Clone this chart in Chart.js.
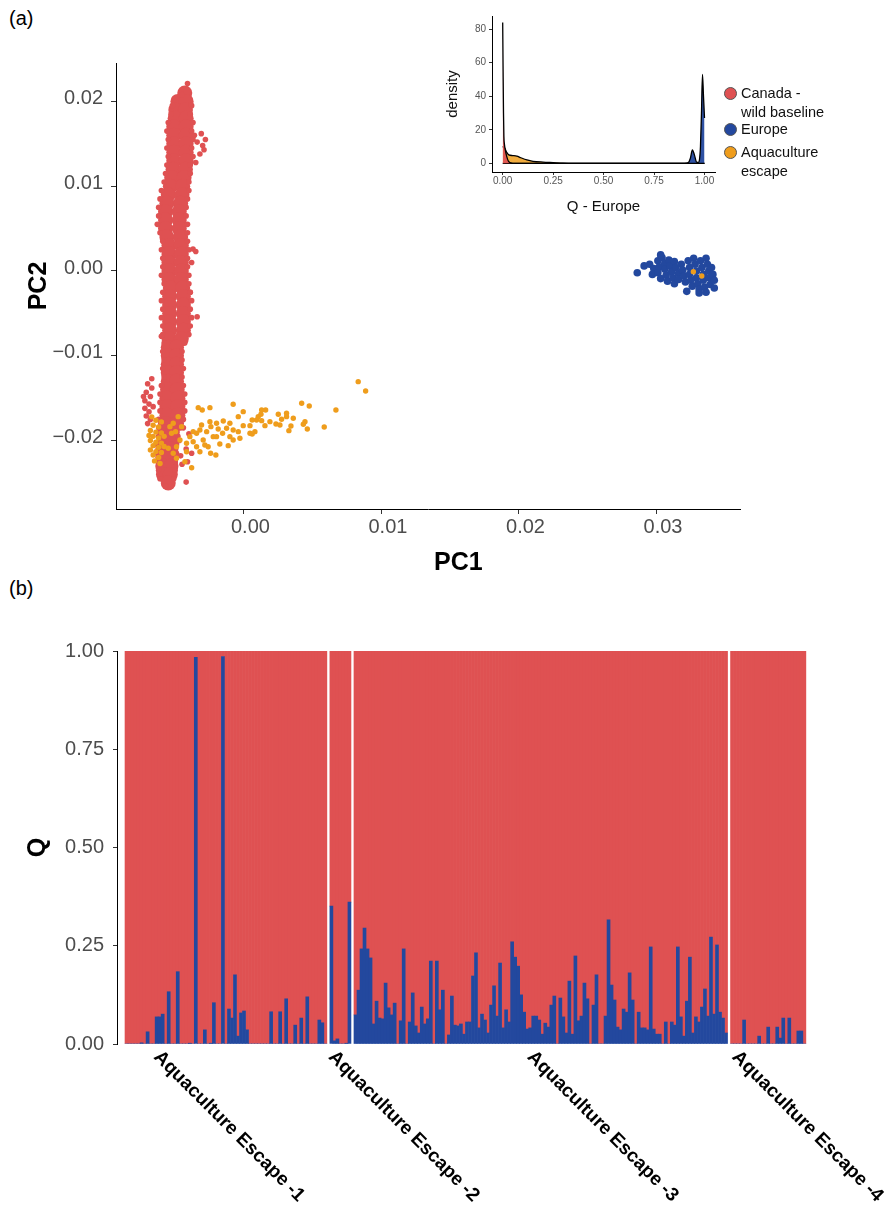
<!DOCTYPE html>
<html lang="en">
<head>
    <meta charset="UTF-8">
    <title>PCA and admixture of aquaculture escapes</title>
    <script src="https://cdn.jsdelivr.net/npm/chart.js"></script>
    <style>
        * { margin: 0; padding: 0; box-sizing: border-box; }
        body { background: #fff; font-family: "Liberation Sans", Arial, sans-serif; }
        #page { position: relative; width: 889px; height: 1207px; }
        canvas { position: absolute; }
        .panel-tag { position: absolute; font-size: 20px; line-height: 20px; color: #000; }
        .axis-title { position: absolute; font-size: 25px; line-height: 30px; font-weight: bold; color: #000; }
        .legend { position: absolute; left: 724px; top: 0; font-size: 14.5px; color: #111; }
        .legend .item { position: absolute; left: 0; white-space: nowrap; }
        .legend .dot {
            position: absolute; left: 0; width: 13px; height: 13px; border-radius: 50%;
            border: 1px solid #555;
        }
        .legend .txt { position: absolute; left: 17px; line-height: 18.5px; }
    </style>
</head>
<body>
<div id="page">
    <div class="panel-tag" style="left:9px; top:8px;">(a)</div>
    <div class="panel-tag" style="left:9px; top:578px;">(b)</div>
    <canvas id="pca" width="889" height="580" style="left:0; top:0;"></canvas>
    <div class="axis-title" style="left:434px; top:546px;">PC1</div>
    <canvas id="density" width="300" height="225" style="left:430px; top:0;"></canvas>
    <div class="legend" id="legend"></div>
    <canvas id="admix" width="889" height="627" style="left:0; top:580px;"></canvas>
</div>
<script>
    const RED = "#DF5152";
    const BLUE = "#23489E";
    const ORANGE = "#EF9D1C";
    const FONT = '"Liberation Sans", Arial, sans-serif';
    Chart.defaults.font.family = FONT;

    // ---- (a) PCA, values [PC1, PC2] ----
    const pcaXTicks = [0, 0.01, 0.02, 0.03];
    const pcaYTicks = [-0.02, -0.01, 0, 0.01, 0.02];

    // dense body of the Canadian cloud
    const pcaCanadaCore = [
        [-0.0043, 0.0210], [-0.0048, 0.0200], [-0.0042, 0.0200], [-0.00495, 0.0190], [-0.00425, 0.0190],
        [-0.0050, 0.0180], [-0.0042, 0.0180], [-0.0051, 0.0170], [-0.0042, 0.0170], [-0.0051, 0.0160],
        [-0.0042, 0.0160], [-0.0051, 0.0150], [-0.0042, 0.0150], [-0.0051, 0.0140], [-0.0042, 0.0140],
        [-0.0051, 0.0130], [-0.0042, 0.0130], [-0.00515, 0.0120], [-0.00425, 0.0120], [-0.00525, 0.0110],
        [-0.00435, 0.0110], [-0.00535, 0.0100], [-0.00445, 0.0100], [-0.0055, 0.0090], [-0.0045, 0.0090],
        [-0.0056, 0.0080], [-0.0046, 0.0080], [-0.0057, 0.0070], [-0.0047, 0.0070], [-0.0057, 0.0060],
        [-0.0047, 0.0060], [-0.0057, 0.0050], [-0.0047, 0.0050], [-0.0056, 0.0040], [-0.0046, 0.0040],
        [-0.00545, 0.0030], [-0.00455, 0.0030], [-0.00545, 0.0020], [-0.00455, 0.0020], [-0.00545, 0.0010],
        [-0.00455, 0.0010], [-0.00545, 0.0000], [-0.00455, 0.0000], [-0.00545, -0.0010], [-0.00455, -0.0010],
        [-0.00535, -0.0020], [-0.00445, -0.0020], [-0.0054, -0.0030], [-0.0044, -0.0030], [-0.0054, -0.0040],
        [-0.0044, -0.0040], [-0.0054, -0.0050], [-0.0044, -0.0050], [-0.0054, -0.0060], [-0.0044, -0.0060],
        [-0.0054, -0.0070], [-0.0044, -0.0070], [-0.00545, -0.0080], [-0.00455, -0.0080], [-0.0055, -0.0090],
        [-0.0049, -0.0090], [-0.0055, -0.0100], [-0.0049, -0.0100], [-0.0055, -0.0110], [-0.0049, -0.0110],
        [-0.0055, -0.0120], [-0.0049, -0.0120], [-0.0055, -0.0130], [-0.0049, -0.0130], [-0.00555, -0.0140],
        [-0.00485, -0.0140], [-0.0056, -0.0150], [-0.0048, -0.0150], [-0.0056, -0.0160], [-0.0048, -0.0160],
        [-0.0056, -0.0170], [-0.0048, -0.0170], [-0.0057, -0.0180], [-0.0049, -0.0180], [-0.0058, -0.0190],
        [-0.0052, -0.0190], [-0.0058, -0.0200], [-0.0052, -0.0200], [-0.0059, -0.0210], [-0.0053, -0.0210],
        [-0.0059, -0.0220], [-0.0053, -0.0220], [-0.0059, -0.0230], [-0.0053, -0.0230], [-0.00585, -0.0240],
        [-0.00535, -0.0240], [-0.0055, -0.0250]
    ];

    // ragged edges and stray Canadian fish
    const pcaCanada = [
        [-0.0041, 0.0221], [-0.0045, 0.0208], [-0.0052, 0.0195], [-0.0038, 0.0195], [-0.0053, 0.0185],
        [-0.0039, 0.0185], [-0.0055, 0.0175], [-0.0037, 0.0175], [-0.0056, 0.0165], [-0.0038, 0.0165],
        [-0.0055, 0.0155], [-0.0037, 0.0155], [-0.0056, 0.0145], [-0.0038, 0.0145], [-0.0055, 0.0135],
        [-0.0037, 0.0135], [-0.0056, 0.0125], [-0.0039, 0.0125], [-0.0057, 0.0115], [-0.0039, 0.0115],
        [-0.0058, 0.0105], [-0.0040, 0.0105], [-0.0060, 0.0095], [-0.0040, 0.0095], [-0.0061, 0.0085],
        [-0.0041, 0.0085], [-0.0062, 0.0075], [-0.0042, 0.0075], [-0.0062, 0.0065], [-0.0042, 0.0065],
        [-0.0063, 0.0055], [-0.0041, 0.0055], [-0.0061, 0.0045], [-0.0041, 0.0045], [-0.0059, 0.0035],
        [-0.0041, 0.0035], [-0.0060, 0.0025], [-0.0040, 0.0025], [-0.0059, 0.0015], [-0.0041, 0.0015],
        [-0.0059, 0.0005], [-0.0041, 0.0005], [-0.0060, -0.0005], [-0.0040, -0.0005], [-0.0058, -0.0015],
        [-0.0040, -0.0015], [-0.0059, -0.0025], [-0.0039, -0.0025], [-0.0060, -0.0035], [-0.0038, -0.0035],
        [-0.0059, -0.0045], [-0.0039, -0.0045], [-0.0060, -0.0055], [-0.0038, -0.0055], [-0.0059, -0.0065],
        [-0.0039, -0.0065], [-0.0059, -0.0075], [-0.0040, -0.0075], [-0.0058, -0.0085], [-0.0043, -0.0085],
        [-0.0059, -0.0095], [-0.0045, -0.0095], [-0.0058, -0.0105], [-0.0045, -0.0105], [-0.0059, -0.0115],
        [-0.0044, -0.0115], [-0.0058, -0.0125], [-0.0045, -0.0125], [-0.0060, -0.0135], [-0.0044, -0.0135],
        [-0.0061, -0.0145], [-0.0043, -0.0145], [-0.0061, -0.0155], [-0.0043, -0.0155], [-0.0061, -0.0165],
        [-0.0043, -0.0165], [-0.0062, -0.0175], [-0.0044, -0.0175], [-0.0062, -0.0185], [-0.0046, -0.0185],
        [-0.0062, -0.0195], [-0.0048, -0.0195], [-0.0063, -0.0205], [-0.0049, -0.0205], [-0.0063, -0.0215],
        [-0.0049, -0.0215], [-0.0062, -0.0225], [-0.0050, -0.0225], [-0.0062, -0.0235], [-0.0050, -0.0235],
        [-0.0061, -0.0245], [-0.0051, -0.0245], [-0.0057, -0.0254],
        [-0.0031, 0.0162], [-0.0028, 0.0155], [-0.0030, 0.0148], [-0.0029, 0.0143], [-0.0032, 0.0138],
        [-0.0034, 0.0152], [-0.0036, 0.0160], [-0.0035, 0.0128], [-0.0037, 0.0026], [-0.0035, 0.0023],
        [-0.0038, 0.0010], [-0.0039, -0.0025], [-0.0034, -0.0054], [-0.0060, -0.0077],
        [-0.0067, -0.0127], [-0.0070, -0.0133], [-0.0067, -0.0138], [-0.0071, -0.0143], [-0.0068, -0.0148],
        [-0.0072, -0.0153], [-0.0069, -0.0157], [-0.0072, -0.0162], [-0.0069, -0.0166], [-0.0071, -0.0171],
        [-0.0068, -0.0175], [-0.0073, -0.0148], [-0.0066, -0.0160], [-0.0070, -0.0180],
        [-0.0042, -0.0249], [-0.0041, -0.0225], [-0.0045, -0.0228], [-0.0044, -0.0185], [-0.0040, -0.0192],
        [-0.0047, -0.0200], [-0.0042, -0.0210], [-0.0038, -0.0215], [-0.0046, -0.0218], [-0.0050, -0.0225]
    ];

    const pcaEurope = [
        [0.0295, 0.0008], [0.0298, 0.0003], [0.0297, -0.0004], [0.0301, 0.0012], [0.0302, 0.0005],
        [0.0301, -0.0002], [0.0303, -0.0009], [0.0304, 0.0016], [0.0306, 0.0009], [0.0306, 0.0002],
        [0.0307, -0.0005], [0.0308, -0.0012], [0.0309, 0.0013], [0.0310, 0.0006], [0.0311, -0.0001],
        [0.0312, -0.0008], [0.0313, -0.0015], [0.0313, 0.0011], [0.0314, 0.0004], [0.0316, -0.0003],
        [0.0316, -0.0010], [0.0318, 0.0008], [0.0319, 0.0001], [0.0320, -0.0006], [0.0321, -0.0013],
        [0.0323, 0.0012], [0.0324, 0.0004], [0.0324, -0.0004], [0.0325, -0.0011], [0.0326, -0.0018],
        [0.0327, 0.0015], [0.0328, 0.0008], [0.0329, 0.0000], [0.0329, -0.0008], [0.0330, -0.0015],
        [0.0331, -0.0022], [0.0332, 0.0012], [0.0333, 0.0004], [0.0334, -0.0004], [0.0334, -0.0011],
        [0.0335, -0.0019], [0.0336, 0.0015], [0.0337, 0.0008], [0.0338, 0.0000], [0.0338, -0.0008],
        [0.0339, -0.0016], [0.0340, 0.0004], [0.0341, -0.0004], [0.0342, -0.0011], [0.0342, -0.0020],
        [0.0336, -0.0025], [0.0331, -0.0026], [0.0286, -0.0002], [0.0291, 0.0006], [0.0303, 0.0019],
        [0.0322, -0.0024]
    ];

    const pcaEscape = [
        [-0.0067, -0.0172], [-0.0064, -0.0176], [-0.0060, -0.0178], [-0.0066, -0.0182], [-0.0062, -0.0184],
        [-0.0068, -0.0188], [-0.0064, -0.0190], [-0.0060, -0.0191], [-0.0066, -0.0195], [-0.0062, -0.0197],
        [-0.0068, -0.0200], [-0.0064, -0.0202], [-0.0060, -0.0203], [-0.0066, -0.0206], [-0.0062, -0.0208],
        [-0.0068, -0.0211], [-0.0064, -0.0213], [-0.0060, -0.0214], [-0.0066, -0.0217], [-0.0062, -0.0220],
        [-0.0065, -0.0224], [-0.0061, -0.0227], [-0.0058, -0.0195], [-0.0058, -0.0207], [-0.0069, -0.0194],
        [-0.00332, -0.01612], [-0.00303, -0.01639], [-0.00247, -0.01612], [-0.00078, -0.01572], [-0.00005, -0.01659],
        [-0.00041, -0.01718], [0.00129, -0.01639], [0.00158, -0.01639], [0.00104, -0.01718], [0.00092, -0.01757],
        [0.00129, -0.01765], [0.00250, -0.01690], [0.00310, -0.01678], [0.00274, -0.01749], [0.00359, -0.01737],
        [0.00420, -0.01560], [0.00475, -0.01592], [0.00444, -0.01777], [0.00432, -0.01808], [0.00461, -0.01863],
        [0.00327, -0.01883], [0.00342, -0.01828], [0.00233, -0.01804], [0.00584, -0.01840], [0.00669, -0.01639],
        [0.00831, -0.01305], [0.00885, -0.01415], [0.00044, -0.01824], [-0.00005, -0.01824], [-0.00041, -0.01895],
        [-0.00029, -0.01973], [-0.00102, -0.01796], [-0.00150, -0.01769], [-0.00199, -0.01796], [-0.00247, -0.01777],
        [-0.00240, -0.01836], [-0.00187, -0.01863], [-0.00155, -0.01914], [-0.00223, -0.01954], [-0.00102, -0.01954],
        [-0.00078, -0.01993], [-0.00114, -0.02060], [-0.00175, -0.02040], [-0.00296, -0.01993], [-0.00320, -0.01875],
        [-0.00369, -0.01895], [-0.00393, -0.01954], [-0.00417, -0.02032], [-0.00344, -0.02072], [-0.00320, -0.02131],
        [-0.00242, -0.02150], [-0.00204, -0.02170], [-0.00380, -0.02320], [-0.00429, -0.02249], [-0.00490, -0.02209],
        [-0.00514, -0.02150], [-0.00550, -0.02091], [-0.00490, -0.02072], [-0.00465, -0.01993], [-0.00526, -0.01914],
        [-0.00453, -0.01836], [-0.00478, -0.01718], [0.00044, -0.01914], [0.00080, -0.01895], [0.00153, -0.01824],
        [0.00189, -0.01777], [0.00060, -0.01922], [-0.00078, -0.01875], [-0.00126, -0.01855], [-0.00260, -0.02072],
        [-0.00284, -0.02052], [-0.00369, -0.02013], [-0.00417, -0.02131], [-0.00199, -0.01954], [-0.00344, -0.01914],
        [-0.00271, -0.01895], [-0.00308, -0.01816], [0.00262, -0.01816], [0.00310, -0.01718], [0.00124, -0.01690],
        [0.00060, -0.01757], [-0.00497, -0.01895], [-0.00538, -0.01836], [-0.00514, -0.01796],
        [0.03268, -0.00008], [0.03329, -0.00059]
    ];

    // ---- inset: density of Q (Europe) ----
    const densCanada = [[0, 84], [0.002, 55], [0.004, 30], [0.006, 16], [0.009, 11], [0.013, 8], [0.018, 5],
        [0.024, 2.5], [0.03, 1], [0.04, 0.2], [0.05, 0], [1, 0]];
    const densEurope = [[0, 0], [0.9, 0], [0.92, 0.5], [0.93, 3], [0.94, 8], [0.95, 5], [0.96, 0.8], [0.97, 0.5],
        [0.975, 2], [0.98, 10], [0.985, 30], [0.99, 53], [0.995, 40], [1, 27]];
    const densEscape = [[0, 10], [0.01, 9], [0.02, 6.5], [0.03, 5], [0.05, 4.6], [0.07, 4.3], [0.09, 3.3],
        [0.12, 2], [0.15, 1.2], [0.2, 0.7], [0.25, 0.4], [0.3, 0.1], [0.35, 0], [1, 0]];
    const densXTicks = [0, 0.25, 0.5, 0.75, 1];
    const densYTicks = [0, 20, 40, 60, 80];

    const legendItems = [
        { lines: ["Canada -", "wild baseline"], color: RED, top: 84 },
        { lines: ["Europe"], color: BLUE, top: 120 },
        { lines: ["Aquaculture", "escape"], color: ORANGE, top: 143 }
    ];

    // ---- (b) Q (Europe) per escaped fish, one array per escape event ----
    const groupNames = ["Aquaculture Escape -1", "Aquaculture Escape -2", "Aquaculture Escape -3", "Aquaculture Escape -4"];
    const escape1Q = [0, 0, 0, 0, 0, 0.003, 0, 0.031, 0, 0, 0.069, 0.069, 0.076, 0, 0.133, 0, 0, 0.184, 0, 0,
        0, 0.002, 0, 0.984, 0, 0, 0.036, 0, 0.002, 0.105, 0, 0, 0.986, 0, 0.089, 0.066, 0.176, 0.02, 0.079, 0.084,
        0.036, 0, 0, 0, 0, 0, 0, 0, 0.082, 0, 0, 0.082, 0, 0.115, 0, 0, 0.048, 0, 0.066, 0,
        0.12, 0, 0, 0, 0.061, 0.054, 0];
    const escape2Q = [0.351, 0.008, 0.013, 0, 0, 0.002, 0.361];
    const escape3Q = [0.074, 0.137, 0.242, 0.295, 0.242, 0.219, 0.051, 0.109, 0.066, 0.064,
        0.155, 0.092, 0.074, 0.104, 0, 0.059, 0.242, 0, 0.056, 0.130,
        0.046, 0.028, 0.094, 0.051, 0.064, 0.211, 0, 0.211, 0.087, 0.137,
        0, 0.023, 0.122, 0.048, 0.046, 0.051, 0.025, 0.056, 0.056, 0.173,
        0.232, 0.041, 0.076, 0.061, 0.028, 0.099, 0.148, 0.071, 0.206, 0.041,
        0.087, 0.056, 0.260, 0.221, 0.198, 0.125, 0.081, 0.038, 0.041, 0.071,
        0.071, 0.061, 0.025, 0.053, 0.043, 0.099, 0.122, 0, 0.117, 0.069,
        0.028, 0.160, 0.025, 0.224, 0.059, 0.071, 0.155, 0.115, 0, 0.099,
        0.176, 0, 0, 0.071, 0.316, 0.150, 0.112, 0.043, 0.036, 0.089,
        0.081, 0.181, 0.112, 0, 0.081, 0.041, 0.041, 0.036, 0.247, 0.038,
        0.025, 0.025, 0, 0.056, 0, 0.056, 0.048, 0.247, 0.069, 0.020,
        0.109, 0.221, 0.028, 0.069, 0.056, 0.094, 0.140, 0.071, 0.272, 0.076,
        0.252, 0.081, 0.066, 0.028];
    const escape4Q = [0, 0, 0, 0, 0.061, 0, 0, 0, 0, 0.020, 0, 0, 0.043, 0, 0, 0.043, 0.015, 0.066, 0, 0.066,
        0, 0, 0.033, 0.033, 0];
    const labelAt = [10, 0, 58, 1];   // fish under which each group name starts
    const qTicks = [0, 0.25, 0.5, 0.75, 1];

    const toXY = arr => arr.map(([x, y]) => ({ x, y }));
    const tickFont = { size: 20 };
    const titleFont = { size: 25, weight: "bold" };

    // Gráfico (a): PCA
    new Chart(document.getElementById("pca"), {
        type: "scatter",
        data: {
            datasets: [
                { label: "Aquaculture escape", data: toXY(pcaEscape), backgroundColor: ORANGE, pointRadius: 2.7, borderWidth: 0 },
                { label: "Europe", data: toXY(pcaEurope), backgroundColor: BLUE, pointRadius: 3.8, borderWidth: 0 },
                { label: "Canada", data: toXY(pcaCanada), backgroundColor: RED, pointRadius: 2.8, borderWidth: 0 },
                { label: "Canada", data: toXY(pcaCanadaCore), backgroundColor: RED, pointRadius: 7.5, borderWidth: 0 }
            ]
        },
        options: {
            responsive: false,
            animation: false,
            events: [],
            layout: { padding: { top: 63, right: 149, left: 0, bottom: 0 } },
            plugins: { legend: { display: false }, tooltip: { enabled: false } },
            scales: {
                x: {
                    type: "linear", min: -0.0093, max: 0.03607,
                    afterFit: s => { s.height = 71; },
                    afterBuildTicks: s => { s.ticks = pcaXTicks.map(v => ({ value: v })); },
                    border: { display: true, color: "#000", width: 1 },
                    grid: { drawOnChartArea: false, drawTicks: true, tickLength: 5, color: "#333" },
                    ticks: { color: "#4D4D4D", font: tickFont, padding: 1, labelOffset: 6.5, maxRotation: 0, callback: v => v.toFixed(2) }
                },
                y: {
                    type: "linear", min: -0.02807, max: 0.02453,
                    afterFit: s => { s.width = 116; },
                    afterBuildTicks: s => { s.ticks = pcaYTicks.map(v => ({ value: v })); },
                    border: { display: true, color: "#000", width: 1 },
                    grid: { drawOnChartArea: false, drawTicks: true, tickLength: 5, color: "#333" },
                    ticks: {
                        color: "#4D4D4D", font: tickFont, padding: 8, labelOffset: -3,
                        callback: v => (v < 0 ? "\u2212" : "") + Math.abs(v).toFixed(2)
                    },
                    title: { display: true, text: "PC2", color: "#000", font: titleFont, padding: { top: 24, bottom: 0 } }
                }
            }
        }
    });

    // Inset: densidade
    const smallTicks = { color: "#555", font: { size: 10 }, maxRotation: 0 };
    new Chart(document.getElementById("density"), {
        type: "line",
        data: {
            datasets: [
                { data: toXY(densCanada), backgroundColor: "rgba(223, 81, 82, 0.92)" },
                { data: toXY(densEurope), backgroundColor: "rgba(35, 72, 158, 0.95)" },
                { data: toXY(densEscape), backgroundColor: "rgba(239, 157, 28, 0.85)" }
            ].map(d => Object.assign(d, {
                fill: "origin", borderColor: "#000", borderWidth: 1.3, pointRadius: 0,
                cubicInterpolationMode: "monotone"
            }))
        },
        options: {
            responsive: false,
            animation: false,
            events: [],
            layout: { padding: { top: 16, right: 15, left: 0, bottom: 0 } },
            plugins: { legend: { display: false }, tooltip: { enabled: false } },
            scales: {
                x: {
                    type: "linear", min: -0.053, max: 1.052,
                    afterFit: s => { s.height = 53; },
                    afterBuildTicks: s => { s.ticks = densXTicks.map(v => ({ value: v })); },
                    border: { display: true, color: "#000", width: 1 },
                    grid: { drawOnChartArea: false, drawTicks: true, tickLength: 3, color: "#333" },
                    ticks: Object.assign({ padding: 0, callback: v => v.toFixed(2) }, smallTicks),
                    title: { display: true, text: "Q - Europe", color: "#111", font: { size: 15 }, padding: { top: 0, bottom: 9 } }
                },
                y: {
                    type: "linear", min: -5.2, max: 87.9,
                    afterFit: s => { s.width = 62; },
                    afterBuildTicks: s => { s.ticks = densYTicks.map(v => ({ value: v })); },
                    border: { display: true, color: "#000", width: 1 },
                    grid: { drawOnChartArea: false, drawTicks: true, tickLength: 3, color: "#333" },
                    ticks: Object.assign({ padding: 3 }, smallTicks),
                    title: { display: true, text: "density", color: "#111", font: { size: 15 }, padding: { top: 14, bottom: 0 } }
                }
            }
        }
    });

    // legenda do inset
    const legendBox = document.getElementById("legend");
    legendItems.forEach(item => {
        const el = document.createElement("div");
        el.className = "item";
        el.style.top = item.top + "px";
        el.innerHTML = '<span class="dot" style="top:2.5px; background:' + item.color + '"></span>' +
            '<span class="txt">' + item.lines.join("<br>") + "</span>";
        legendBox.appendChild(el);
    });

    // Gráfico (b): barras empilhadas, um grupo por fuga
    const groups = [escape1Q, escape2Q, escape3Q, escape4Q];
    const groupStart = [];
    const europeBars = [];
    const canadaBars = [];
    let pos = 0;
    groups.forEach(g => {
        groupStart.push(pos);
        g.forEach((q, i) => {
            europeBars.push({ x: pos + i, y: q });
            canadaBars.push({ x: pos + i, y: 1 - q });
        });
        pos += g.length + 1; // one empty slot between escape events
    });

    const groupLabelPlugin = {
        id: "groupLabels",
        afterDraw(chart) {
            const { ctx, chartArea, scales: { x } } = chart;
            ctx.save();
            ctx.font = "bold 19px " + FONT;
            ctx.fillStyle = "#000";
            ctx.textAlign = "left";
            ctx.textBaseline = "middle";
            groupNames.forEach((name, g) => {
                const px = x.getPixelForValue(groupStart[g] + labelAt[g]);
                ctx.save();
                ctx.translate(px, chartArea.bottom + 10);
                ctx.rotate(Math.PI / 4);
                ctx.fillText(name, 0, 0);
                ctx.restore();
            });
            ctx.restore();
        }
    };

    new Chart(document.getElementById("admix"), {
        type: "bar",
        data: {
            datasets: [
                { label: "Europe", data: europeBars, backgroundColor: BLUE },
                { label: "Canada", data: canadaBars, backgroundColor: RED }
            ].map(d => Object.assign(d, { barPercentage: 1, categoryPercentage: 1, borderWidth: 0 }))
        },
        options: {
            responsive: false,
            animation: false,
            events: [],
            layout: { padding: { top: 71, right: 75, left: 0, bottom: 0 } },
            plugins: { legend: { display: false }, tooltip: { enabled: false } },
            scales: {
                x: {
                    type: "linear", stacked: true, min: -3.16, max: 228.2,
                    offset: false, bounds: "data",
                    afterFit: s => { s.height = 163; },
                    border: { display: false },
                    grid: { display: false, offset: false },
                    ticks: { display: false }
                },
                y: {
                    stacked: true, min: 0, max: 1,
                    afterFit: s => { s.width = 117; },
                    afterBuildTicks: s => { s.ticks = qTicks.map(v => ({ value: v })); },
                    border: { display: true, color: "#000", width: 1 },
                    grid: { drawOnChartArea: false, drawTicks: true, tickLength: 4, color: "#333" },
                    ticks: { color: "#4D4D4D", font: tickFont, padding: 9, callback: v => v.toFixed(2) },
                    title: { display: true, text: "Q", color: "#000", font: titleFont, padding: { top: 23, bottom: 0 } }
                }
            }
        },
        plugins: [groupLabelPlugin]
    });
</script>
</body>
</html>
